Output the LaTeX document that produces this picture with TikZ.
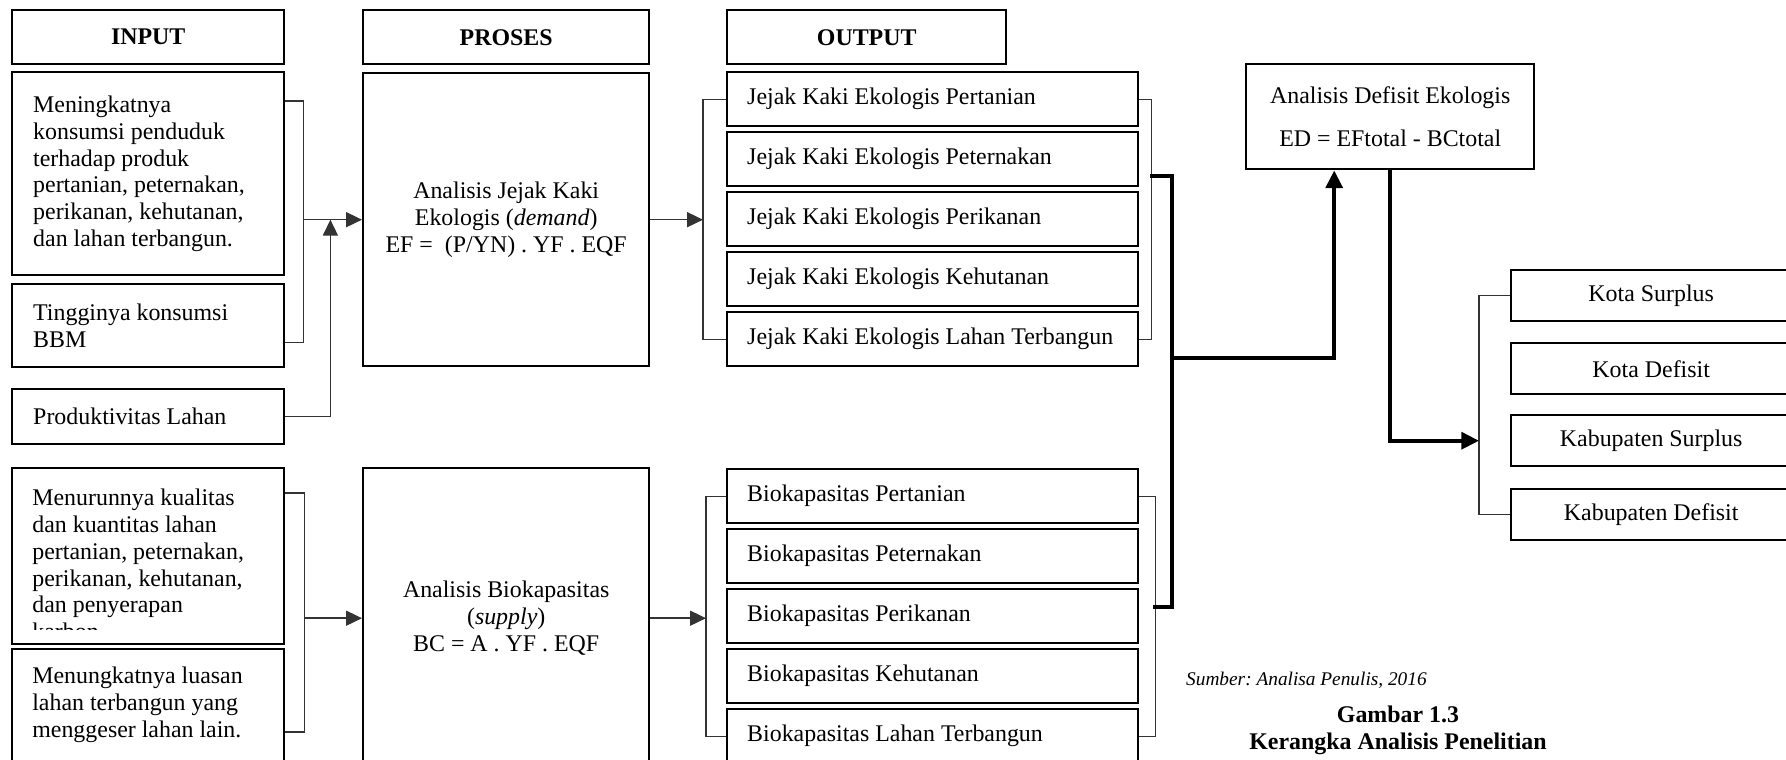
\documentclass[tikz,border=0pt]{standalone}
\usepackage{fontspec}
\setmainfont{Liberation Serif}
\usetikzlibrary{arrows.meta,calc}
\frenchspacing

% teks rata kiri di kotak output
\newcommand{\baris}[1]{\makebox[7.42cm][l]{#1}}

\tikzset{
  kotak/.style={draw, line width=1.4pt, rectangle, inner sep=0pt, anchor=north west},
  judul/.style={font=\fontsize{13.6}{15.2}\selectfont\bfseries},
  masukan/.style={minimum width=5.44cm, text width=4.6cm, align=flush left},
  keluaran/.style={minimum width=8.22cm, minimum height=1.08cm, inner xsep=0.4cm},
  wilayah/.style={minimum width=5.6cm, minimum height=1.02cm},
  isi/.style={inner sep=0pt, align=left},
  garis/.style={line width=0.8pt, black!80},
  tebal/.style={line width=2.2pt},
  panah/.style={-{Triangle[length=9pt,width=8.5pt]}},
  panahb/.style={-{Triangle[length=10pt,width=9.5pt]}},
}

\begin{document}
\begin{tikzpicture}[x=0.02cm, y=-0.02cm,
    every node/.style={font=\fontsize{13.6}{15.2}\selectfont}]
    \useasboundingbox (0,0) rectangle (1786,760);

    % judul kolom
    \node[kotak, judul, minimum width=5.44cm, minimum height=1.08cm] (hdrIn) at (11,9) {INPUT};
    \node[kotak, judul, minimum width=5.72cm, minimum height=1.08cm] (hdrPro) at (362,9) {PROSES};
    \node[kotak, judul, minimum width=5.58cm, minimum height=1.08cm] (hdrOut) at (726,9) {OUTPUT};

    % input
    \node[kotak, masukan, minimum height=4.06cm] (inA) at (11,71) {Meningkatnya\\ konsumsi penduduk\\ terhadap produk\\ pertanian, peternakan,\\ perikanan, kehutanan,\\ dan lahan terbangun.};
    \node[kotak, masukan, minimum height=1.66cm] (inB) at (11,283) {Tingginya konsumsi\\ BBM};
    \node[kotak, masukan, minimum height=1.10cm] (inC) at (11,388) {Produktivitas Lahan};
    \node[kotak, minimum width=5.44cm, minimum height=3.52cm] (inD) at (11,467) {};
    \node[kotak, minimum width=5.44cm, minimum height=2.8cm] (inE) at (11,648) {};

    % teks input bawah (terpotong kotak)
    \begin{scope}
        \clip (inD.north west) rectangle ([yshift=-3.26cm]inD.north east);
        \node[isi, anchor=north west] (inDteks) at (32,489) {Menurunnya kualitas\\ dan kuantitas lahan\\ pertanian, peternakan,\\ perikanan, kehutanan,\\ dan penyerapan\\ karbon.};
    \end{scope}
    \node[isi, anchor=north west] (inEteks) at (32,667) {Menungkatnya luasan\\ lahan terbangun yang\\ menggeser lahan lain.};

    % proses
    \node[kotak, align=center, minimum width=5.72cm, minimum height=5.86cm] (proEF) at (362,72) {Analisis Jejak Kaki\\ Ekologis (\textit{demand})\\ EF = \ (P/YN) . YF . EQF};
    \node[kotak, align=center, minimum width=5.72cm, minimum height=6.0cm] (proBC) at (362,467) {Analisis Biokapasitas\\ (\textit{supply})\\ BC = A . YF . EQF};

    % output jejak kaki
    \node[kotak, keluaran] (efA) at (726,71) {\baris{Jejak Kaki Ekologis Pertanian}};
    \node[kotak, keluaran] (efB) at (726,131) {\baris{Jejak Kaki Ekologis Peternakan}};
    \node[kotak, keluaran] (efC) at (726,191) {\baris{Jejak Kaki Ekologis Perikanan}};
    \node[kotak, keluaran] (efD) at (726,251) {\baris{Jejak Kaki Ekologis Kehutanan}};
    \node[kotak, keluaran] (efE) at (726,311) {\baris{Jejak Kaki Ekologis Lahan Terbangun}};

    % output biokapasitas
    \node[kotak, keluaran] (bcA) at (726,468) {\baris{Biokapasitas Pertanian}};
    \node[kotak, keluaran] (bcB) at (726,528) {\baris{Biokapasitas Peternakan}};
    \node[kotak, keluaran] (bcC) at (726,588) {\baris{Biokapasitas Perikanan}};
    \node[kotak, keluaran] (bcD) at (726,648) {\baris{Biokapasitas Kehutanan}};
    \node[kotak, keluaran] (bcE) at (726,708) {\baris{Biokapasitas Lahan Terbangun}};

    % defisit ekologis
    \node[kotak, align=center, minimum width=5.76cm, minimum height=2.1cm] (defisit) at (1245,63) {Analisis Defisit Ekologis\\[9.3pt] ED = EFtotal - BCtotal};

    % hasil
    \node[kotak, wilayah] (kotaS) at (1510,269) {Kota Surplus};
    \node[kotak, wilayah] (kotaD) at (1510,342) {Kota Defisit};
    \node[kotak, wilayah] (kabS) at (1510,414) {Kabupaten Surplus};
    \node[kotak, wilayah] (kabD) at (1510,488) {Kabupaten Defisit};

    % sumber dan judul gambar
    \node[anchor=west, font=\fontsize{11}{13}\selectfont\itshape] (sumber) at (1180,680) {Sumber: Analisa Penulis, 2016};
    \node[judul, align=center] (gambar) at (1398,730) {Gambar 1.3\\ Kerangka Analisis Penelitian};

    % kurung input -> proses
    \draw[garis] ([yshift=-0.6cm]inA.north east) -- ++(18,0) coordinate (jIn) |- ([yshift=0.52cm]inB.south east);
    \draw[garis, panah] (jIn |- proEF.west) -- (proEF.west);
    \draw[garis, panah] (inC.east) -| ($(jIn |- proEF.west)+(27,0)$);
    \draw[garis] ([yshift=-0.52cm]inD.north east) -- ++(19,0) coordinate (jIn2) |- ([yshift=-1.68cm]inE.north east);
    \draw[garis, panah] (jIn2 |- proBC.west) -- (proBC.west);

    % proses -> output
    \draw[garis] (efA.west) -- ++(-23,0) coordinate (jOutA) |- (efE.west);
    \draw[garis, panah] (proEF.east) -- (proEF.east -| jOutA);
    \draw[garis] (bcA.west) -- ++(-20,0) coordinate (jOutB) |- (bcE.west);
    \draw[garis, panah] (proBC.east) -- (proBC.east -| jOutB);
    \draw[garis] (efA.east) -- ++(12,0) |- (efE.east);
    \draw[garis] (bcA.east) -- ++(16,0) |- (bcE.east);

    % output -> defisit -> hasil
    \coordinate (tAtas) at (1150,176);
    \coordinate (tTengah) at (1172,358);
    \coordinate (tBawah) at (1153,607);
    \draw[tebal] (tAtas) -| (tTengah) |- (tBawah);
    \draw[tebal, panahb] (tTengah) -| ([xshift=-1.12cm]defisit.south);
    \draw[garis] (kotaS.west) -- ++(-31,0) coordinate (jKota) |- (kabD.west);
    \draw[tebal, panahb] (defisit.south) |- (jKota |- kabS.west);
\end{tikzpicture}
\end{document}
